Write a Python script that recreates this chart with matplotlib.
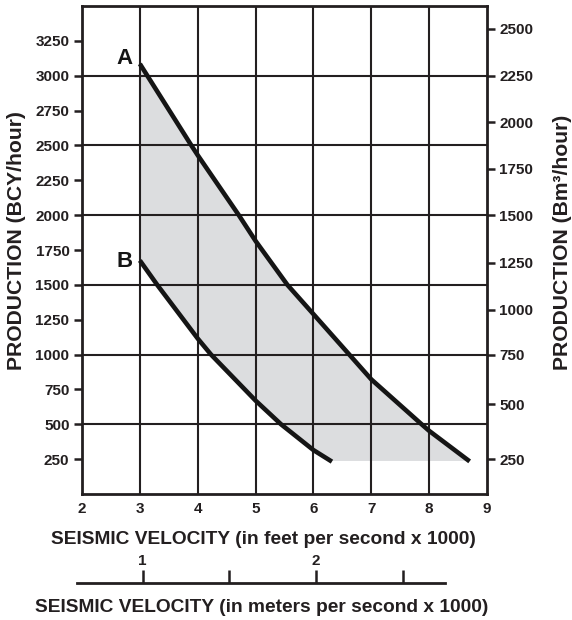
import matplotlib
matplotlib.use("Agg")
import matplotlib.pyplot as plt
from matplotlib.ticker import FixedLocator, NullFormatter

# ---- data ----
curve_a_x = [3.0, 3.89, 4.0, 4.71, 5.0, 5.55, 6.0, 6.62, 7.0, 7.87, 8.0, 8.7]
curve_a_y = [3085, 2500, 2430, 2000, 1815, 1500, 1290, 1000, 822, 500, 453, 234]
curve_b_x = [3.0, 3.3, 4.0, 4.23, 5.0, 5.44, 6.0, 6.32]
curve_b_y = [1675, 1500, 1115, 1000, 670, 500, 315, 232]
fill_floor = 237

x_ticks = [2, 3, 4, 5, 6, 7, 8, 9]
left_ticks = [250, 500, 750, 1000, 1250, 1500, 1750, 2000, 2250, 2500, 2750, 3000, 3250]
grid_y = [500, 1000, 1500, 2000, 2500, 3000]
right_tick_labels = [250, 500, 750, 1000, 1250, 1500, 1750, 2000, 2250, 2500]
right_tick_pos = [250, 642, 1000, 1323, 1660, 2000, 2333, 2667, 3000, 3338]
meter_major = [1, 2]
meter_minor = [1.5, 2.5]

FONT = "Liberation Sans"
DARK = "#231f20"
LINE = "#151515"
plt.rcParams["font.family"] = [FONT, "DejaVu Sans"]
plt.rcParams["font.weight"] = "bold"

W, H = 572, 620
fig = plt.figure(figsize=(W / 100, H / 100), dpi=100)

L, R, T, B = 82, 487, 6, 494
ax = fig.add_axes([L / W, 1 - B / H, (R - L) / W, (B - T) / H])
ax.set_xlim(2, 9)
ax.set_ylim(0, 3500)

# shaded region between the two curves, closed by a flat floor
poly_x = curve_a_x[:-1] + [curve_a_x[-1], curve_b_x[-1]] + curve_b_x[::-1][1:]
poly_y = curve_a_y[:-1] + [fill_floor, fill_floor] + curve_b_y[::-1][1:]
ax.fill(poly_x, poly_y, color="#dcdddf", lw=0, zorder=1)

# grid
for gx in x_ticks[1:-1]:
    ax.axvline(gx, color=DARK, lw=1.5, zorder=2)
for gy in grid_y:
    ax.axhline(gy, color=DARK, lw=1.5, zorder=2)

ax.plot(curve_a_x, curve_a_y, color=LINE, lw=3.3, solid_capstyle="butt",
        solid_joinstyle="round", zorder=3)
ax.plot(curve_b_x, curve_b_y, color=LINE, lw=3.3, solid_capstyle="butt",
        solid_joinstyle="round", zorder=3)

for s in ax.spines.values():
    s.set_color(DARK)
    s.set_linewidth(2)

ax.set_xticks(x_ticks)
ax.set_xticklabels([str(v) for v in x_ticks], fontsize=11, fontweight="bold", color=DARK)
ax.tick_params(axis="x", length=0, pad=6)
ax.set_yticks(left_ticks)
ax.set_yticklabels([str(v) for v in left_ticks], fontsize=11, fontweight="bold", color=DARK)
ax.tick_params(axis="y", direction="out", length=6, width=1.8, color=DARK, pad=3)

ax2 = ax.twinx()
ax2.set_ylim(0, 3500)
ax2.set_yticks(right_tick_pos)
ax2.set_yticklabels([str(v) for v in right_tick_labels], fontsize=11, fontweight="bold", color=DARK)
ax2.tick_params(axis="y", direction="out", length=6, width=1.8, color=DARK, pad=3)
for s in ax2.spines.values():
    s.set_visible(False)

ax.annotate("A", (curve_a_x[0], curve_a_y[0]), xytext=(-5, 0), textcoords="offset points",
            ha="right", va="baseline", fontsize=16, fontweight="bold", color=LINE)
ax.annotate("B", (curve_b_x[0], curve_b_y[0]), xytext=(-5, -4.5), textcoords="offset points",
            ha="right", va="baseline", fontsize=16, fontweight="bold", color=LINE)

fig.text(17 / W, 1 - 241 / H, "PRODUCTION (BCY/hour)", rotation=90, ha="center", va="center",
         fontsize=15.2, fontweight="bold", color=DARK)
fig.text(563 / W, 1 - 242 / H, "PRODUCTION (Bm\u00b3/hour)", rotation=90, ha="center", va="center",
         fontsize=15.2, fontweight="bold", color=DARK)
fig.text(263 / W, 1 - 539 / H, "SEISMIC VELOCITY (in feet per second x 1000)", ha="center", va="center",
         fontsize=13.8, fontweight="bold", color=DARK)
fig.text(262 / W, 1 - 607 / H, "SEISMIC VELOCITY (in meters per second x 1000)", ha="center", va="center",
         fontsize=13.8, fontweight="bold", color=DARK)

# metric scale bar
mL, mR, mB, mT = 77, 445, 582.7, 570
axm = fig.add_axes([mL / W, 1 - mB / H, (mR - mL) / W, (mB - mT) / H])
axm.set_xlim(1 + (mL - 142.7) / 173.3, 1 + (mR - 142.7) / 173.3)
axm.set_ylim(0, 1)
axm.patch.set_visible(False)
for k in ["top", "left", "right"]:
    axm.spines[k].set_visible(False)
axm.spines["bottom"].set_color(DARK)
axm.spines["bottom"].set_linewidth(2)
axm.set_yticks([])
axm.xaxis.set_major_locator(FixedLocator(meter_major))
axm.xaxis.set_minor_locator(FixedLocator(meter_minor))
axm.xaxis.set_minor_formatter(NullFormatter())
axm.set_xticklabels([str(v) for v in meter_major], fontsize=11, fontweight="bold", color=DARK)
axm.tick_params(axis="x", which="both", direction="in", length=9.2, width=1.8, color=DARK,
                top=False, labelbottom=False, labeltop=True, pad=1.5)

fig.savefig("out.png", dpi=100)
